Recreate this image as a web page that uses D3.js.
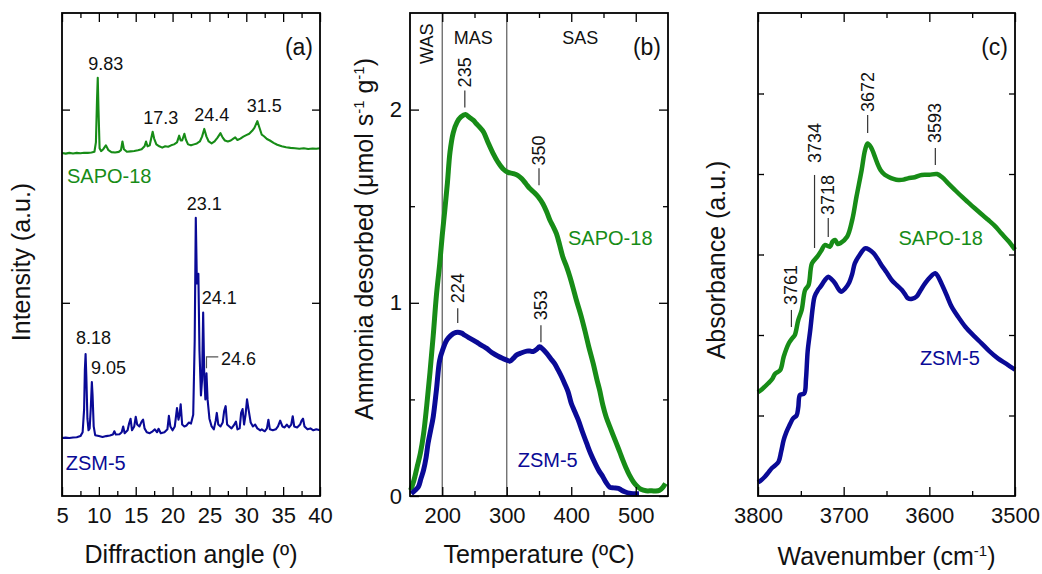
<!DOCTYPE html>
<html>
<head>
<meta charset="utf-8">
<script src="https://cdn.jsdelivr.net/npm/d3@7"></script>
<style>
body{margin:0;background:#fff;}
svg{display:block;font-family:"Liberation Sans",Arial,sans-serif;}
</style>
</head>
<body>
<svg id="chart" width="1042" height="574"></svg>
<script>
// ---- (a) XRD patterns: [angle, intensity a.u.]
const sapoXRD = [[5.0,1.775],[5.5,1.772],[6.0,1.776],[6.5,1.773],[7.0,1.776],[7.5,1.774],[8.0,1.777],[8.5,1.776],[9.0,1.778],[9.4,1.782],[9.6,1.83],[9.75,2.05],[9.85,2.165],[9.95,2.0],[10.1,1.80],[10.3,1.785],[10.6,1.795],[10.95,1.815],[11.3,1.79],[11.7,1.78],[12.2,1.778],[12.7,1.781],[13.0,1.79],[13.2,1.835],[13.4,1.795],[13.8,1.782],[14.3,1.784],[14.8,1.786],[15.3,1.79],[15.8,1.795],[16.2,1.81],[16.4,1.835],[16.6,1.81],[16.9,1.815],[17.1,1.85],[17.3,1.885],[17.5,1.85],[17.8,1.82],[18.2,1.81],[18.6,1.803],[19.0,1.81],[19.4,1.808],[19.8,1.815],[20.2,1.82],[20.6,1.83],[20.9,1.865],[21.1,1.84],[21.3,1.84],[21.6,1.875],[21.8,1.845],[22.1,1.82],[22.5,1.815],[22.9,1.82],[23.3,1.825],[23.7,1.835],[24.0,1.86],[24.3,1.9],[24.6,1.86],[24.9,1.835],[25.3,1.825],[25.7,1.835],[26.1,1.855],[26.5,1.878],[26.8,1.855],[27.1,1.84],[27.5,1.835],[27.9,1.84],[28.2,1.848],[28.5,1.856],[28.8,1.843],[29.2,1.85],[29.6,1.86],[30.0,1.868],[30.4,1.875],[30.8,1.89],[31.1,1.905],[31.5,1.94],[31.8,1.905],[32.1,1.87],[32.4,1.862],[32.8,1.848],[33.2,1.84],[33.7,1.828],[34.2,1.818],[34.8,1.81],[35.4,1.805],[36.0,1.802],[36.6,1.8],[37.2,1.797],[37.8,1.8],[38.4,1.796],[39.0,1.799],[39.5,1.797],[40.0,1.8]];
const zsmXRD = [[5.0,0.30],[5.5,0.302],[6.0,0.30],[6.5,0.303],[7.0,0.304],[7.5,0.31],[7.8,0.33],[8.0,0.45],[8.1,0.65],[8.2,0.735],[8.3,0.62],[8.45,0.40],[8.6,0.34],[8.75,0.35],[8.9,0.45],[9.05,0.59],[9.15,0.52],[9.3,0.36],[9.5,0.315],[10.0,0.31],[10.5,0.305],[11.0,0.31],[11.5,0.313],[11.9,0.318],[12.1,0.335],[12.3,0.318],[12.8,0.32],[13.1,0.33],[13.3,0.36],[13.5,0.325],[13.9,0.34],[14.1,0.375],[14.3,0.40],[14.5,0.34],[14.8,0.36],[15.0,0.41],[15.2,0.37],[15.5,0.36],[15.8,0.385],[16.0,0.395],[16.2,0.35],[16.5,0.33],[16.9,0.325],[17.3,0.335],[17.6,0.345],[17.9,0.33],[18.1,0.348],[18.4,0.325],[18.9,0.33],[19.3,0.345],[19.5,0.415],[19.7,0.36],[20.0,0.34],[20.3,0.36],[20.6,0.455],[20.8,0.395],[20.95,0.42],[21.1,0.475],[21.3,0.37],[21.6,0.36],[21.9,0.365],[22.2,0.38],[22.5,0.375],[22.8,0.42],[23.0,0.8],[23.15,1.44],[23.3,1.1],[23.5,1.15],[23.65,0.75],[23.85,0.52],[24.0,0.6],[24.15,0.95],[24.3,0.62],[24.45,0.5],[24.6,0.635],[24.75,0.5],[25.0,0.4],[25.3,0.36],[25.6,0.345],[25.85,0.39],[26.0,0.43],[26.2,0.37],[26.5,0.36],[26.8,0.38],[27.0,0.44],[27.2,0.465],[27.4,0.37],[27.7,0.36],[28.0,0.35],[28.3,0.365],[28.6,0.385],[28.8,0.345],[29.1,0.35],[29.3,0.43],[29.5,0.45],[29.7,0.37],[29.9,0.42],[30.1,0.5],[30.3,0.45],[30.6,0.38],[30.9,0.36],[31.2,0.37],[31.5,0.35],[31.9,0.34],[32.1,0.345],[32.5,0.335],[32.8,0.35],[33.0,0.395],[33.2,0.345],[33.6,0.34],[34.0,0.345],[34.3,0.36],[34.6,0.39],[34.9,0.36],[35.2,0.355],[35.5,0.37],[35.8,0.355],[36.1,0.37],[36.3,0.413],[36.5,0.36],[36.9,0.355],[37.3,0.37],[37.5,0.39],[37.7,0.40],[37.9,0.36],[38.3,0.345],[38.7,0.35],[39.1,0.34],[39.5,0.345],[40.0,0.34]];
// peak labels: [text, angle, intensity] (text start, baseline)
const xrdLabels = [["9.83",8.57,2.207],["17.3",16.03,1.928],["24.4",22.95,1.943],["31.5",30.06,1.990],["23.1",21.92,1.478],["24.1",23.95,0.996],["24.6",26.57,0.677],["8.18",6.90,0.786],["9.05",8.93,0.634]];
const xrdBracket = [[24.6,0.661],[24.6,0.72],[26.2,0.72]];
const xrdNames = [["SAPO-18",5.68,1.618],["ZSM-5",5.5,0.134]];

// ---- (b) NH3-TPD: [temperature ºC, umol s-1 g-1]
const sapoTPD = [[151,0.03],[156,0.08],[161,0.15],[166,0.22],[171,0.32],[176,0.47],[181,0.64],[186,0.83],[191,1.04],[196,1.2],[200,1.35],[204,1.48],[208,1.62],[212,1.78],[217,1.88],[223,1.935],[229,1.962],[236,1.975],[242,1.96],[248,1.945],[253,1.927],[259,1.905],[264,1.884],[271,1.83],[279,1.772],[286,1.73],[294,1.694],[302,1.675],[310,1.669],[317,1.66],[323,1.643],[330,1.615],[336,1.591],[343,1.57],[349,1.548],[356,1.513],[362,1.47],[367,1.427],[372,1.395],[377,1.358],[382,1.30],[387,1.237],[393,1.185],[398,1.134],[403,1.075],[408,1.013],[415,0.935],[421,0.858],[427,0.775],[434,0.686],[440,0.60],[444,0.548],[449,0.47],[454,0.41],[462,0.34],[470,0.272],[475,0.23],[480,0.186],[485,0.145],[490,0.109],[497,0.07],[503,0.048],[508,0.035],[516,0.027],[525,0.027],[531,0.026],[537,0.03],[542,0.045],[546,0.065]];
const zsmTPD = [[152,0.012],[158,0.03],[163,0.048],[167,0.09],[171,0.134],[175,0.2],[178,0.272],[182,0.34],[186,0.41],[191,0.55],[196,0.703],[201,0.76],[207,0.807],[213,0.83],[218,0.843],[224,0.848],[230,0.843],[235,0.832],[241,0.82],[248,0.807],[254,0.795],[259,0.784],[264,0.774],[269,0.764],[274,0.75],[279,0.738],[286,0.725],[294,0.712],[300,0.703],[305,0.698],[310,0.712],[315,0.729],[322,0.74],[331,0.75],[336,0.75],[341,0.748],[346,0.758],[351,0.772],[356,0.76],[362,0.738],[368,0.712],[374,0.686],[380,0.65],[385,0.617],[390,0.58],[395,0.54],[400,0.48],[405,0.44],[411,0.393],[417,0.335],[424,0.272],[430,0.22],[437,0.169],[443,0.13],[449,0.1],[454,0.07],[460,0.045],[466,0.042],[473,0.04],[478,0.03],[483,0.022],[490,0.014],[497,0.012],[505,0.012]];
const tpdBounds = [200, 300];
const tpdZones = [["WAS",177,2.341,true],["MAS",248,2.341,false],["SAS",414,2.341,false]];
// [temperature, line bottom, line top, text start, text]
const tpdPeaks = [[235,2.011,2.099,2.115,"235"],[350,1.608,1.696,1.711,"350"],[224,0.895,0.972,0.998,"224"],[353,0.796,0.884,0.910,"353"]];
const tpdNames = [["SAPO-18",395,1.298],["ZSM-5",317,0.15]];

// ---- (c) FTIR OH region: [wavenumber, absorbance a.u.]
const sapoIR = [[3800,1.29],[3795,1.33],[3788,1.40],[3783,1.46],[3780,1.52],[3774,1.565],[3770,1.73],[3764,1.897],[3760,1.96],[3757,2.0],[3753,2.186],[3749,2.31],[3745,2.559],[3741,2.62],[3737,2.89],[3731,2.97],[3726,3.05],[3722,3.118],[3716,3.097],[3713,3.16],[3710,3.18],[3707,3.13],[3704,3.14],[3696,3.22],[3690,3.43],[3685,3.72],[3679,4.05],[3675,4.3],[3672,4.38],[3668,4.33],[3665,4.257],[3661,4.14],[3657,4.05],[3652,3.99],[3648,3.967],[3642,3.94],[3636,3.925],[3630,3.93],[3625,3.946],[3617,3.96],[3609,3.988],[3600,3.99],[3591,4.0],[3585,3.96],[3578,3.884],[3570,3.8],[3562,3.718],[3555,3.65],[3547,3.574],[3539,3.5],[3531,3.428],[3523,3.35],[3516,3.263],[3508,3.17],[3500,3.06]];
const zsmIR = [[3800,0.17],[3796,0.2],[3792,0.24],[3788,0.29],[3784,0.344],[3780,0.38],[3776,0.426],[3773,0.55],[3770,0.696],[3767,0.79],[3764,0.861],[3759,0.965],[3755,1.0],[3753,1.1],[3751,1.255],[3746,1.276],[3744,1.45],[3742,1.8],[3739,2.062],[3736,2.35],[3734,2.476],[3730,2.56],[3727,2.6],[3722,2.68],[3718,2.724],[3714,2.69],[3710,2.642],[3706,2.57],[3703,2.538],[3698,2.58],[3694,2.642],[3690,2.76],[3687,2.89],[3681,3.0],[3675,3.077],[3670,3.06],[3665,3.015],[3660,2.94],[3656,2.87],[3650,2.78],[3644,2.683],[3638,2.62],[3632,2.559],[3628,2.5],[3625,2.456],[3620,2.45],[3615,2.476],[3610,2.56],[3605,2.642],[3599,2.72],[3593,2.766],[3590,2.73],[3586,2.642],[3580,2.5],[3574,2.352],[3566,2.22],[3558,2.103],[3548,1.99],[3539,1.897],[3530,1.8],[3520,1.71],[3510,1.64],[3500,1.57]];
const irPeaks = [[3672,4.509,4.733,4.770,"3672"],[3593,4.112,4.323,4.385,"3593"],[3734,3.081,3.988,4.137,"3734"],[3718,3.217,3.453,3.491,"3718"],[3761,2.099,2.311,2.373,"3761"]];
const irNames = [["SAPO-18",3636,3.118],["ZSM-5",3611,1.627]];

const svg = d3.select("#chart");
const fTop = 13, fBot = 496;
const green = "#178c17", navy = "#0a0a96";

function frame(g, x, y, o) {
  const [x0, x1] = x.range();
  const ax = (sel, axis) => sel.call(axis).call(s => s.select(".domain").remove());
  ax(g.append("g").attr("transform", `translate(0,${fBot})`),
     d3.axisBottom(x).tickValues(o.xMajor).tickSize(-9).tickPadding(11).tickFormat(d3.format("d")));
  ax(g.append("g").attr("transform", `translate(0,${fBot})`),
     d3.axisBottom(x).tickValues(o.xMinor).tickSize(-5).tickFormat(""));
  ax(g.append("g").attr("transform", `translate(0,${fTop})`),
     d3.axisTop(x).tickValues(o.xMajor).tickSize(-9).tickFormat(""));
  ax(g.append("g").attr("transform", `translate(0,${fTop})`),
     d3.axisTop(x).tickValues(o.xMinor).tickSize(-5).tickFormat(""));
  ax(g.append("g").attr("transform", `translate(${x0},0)`),
     d3.axisLeft(y).tickValues(o.yMajor).tickSize(-o.yLen).tickPadding(8).tickFormat(o.yLabels ? d3.format("d") : ""));
  ax(g.append("g").attr("transform", `translate(${x1},0)`),
     d3.axisRight(y).tickValues(o.yMajor).tickSize(-o.yLen).tickFormat(""));
  if (o.yMinor) {
    ax(g.append("g").attr("transform", `translate(${x0},0)`),
       d3.axisLeft(y).tickValues(o.yMinor).tickSize(-5).tickFormat(""));
    ax(g.append("g").attr("transform", `translate(${x1},0)`),
       d3.axisRight(y).tickValues(o.yMinor).tickSize(-5).tickFormat(""));
  }
  g.selectAll(".tick line").attr("stroke", "#000").attr("stroke-width", 1.3);
  g.selectAll(".tick text").attr("font-size", 22).attr("fill", "#111")
    .attr("font-family", "Liberation Sans, Arial, sans-serif");
  g.append("rect").attr("x", x0).attr("y", fTop).attr("width", x1 - x0).attr("height", fBot - fTop)
    .attr("fill", "none").attr("stroke", "#000").attr("stroke-width", 1.8);
  g.append("text").attr("x", x1 - 7).attr("y", 55).attr("text-anchor", "end")
    .attr("font-size", 23).attr("fill", "#111").text(o.tag);
}

function yTitle(g, xPos, yPos, build) {
  const t = g.append("text").attr("transform", `translate(${xPos},${yPos}) rotate(-90)`)
    .attr("text-anchor", "middle").attr("font-size", 25).attr("fill", "#111");
  build(t);
}

function xTitle(g, x, yPos, build) {
  const [x0, x1] = x.range();
  const t = g.append("text").attr("x", (x0 + x1) / 2).attr("y", yPos)
    .attr("text-anchor", "middle").attr("font-size", 25).attr("fill", "#111");
  build(t);
}

function names(g, x, y, list, cols) {
  g.selectAll(null).data(list).join("text")
    .attr("x", d => x(d[1])).attr("y", d => y(d[2]))
    .attr("font-size", 20).attr("fill", (d, i) => cols[i]).text(d => d[0]);
}

function peakMarks(g, x, y, list) {
  g.selectAll(null).data(list).join("line")
    .attr("x1", d => x(d[0])).attr("x2", d => x(d[0]))
    .attr("y1", d => y(d[1])).attr("y2", d => y(d[2]))
    .attr("stroke", "#333").attr("stroke-width", 1.2);
  g.selectAll(null).data(list).join("text")
    .attr("transform", d => `translate(${x(d[0])},${y(d[3])}) rotate(-90)`)
    .attr("dominant-baseline", "central").attr("font-size", 18).attr("fill", "#111")
    .text(d => d[4]);
}

function drawXRD() {
  const g = svg.append("g");
  const x = d3.scaleLinear().domain([5, 40]).range([62, 320]);
  const y = d3.scaleLinear().domain([0, 2.5]).range([fBot, fTop]);
  const line = d3.line().x(d => x(d[0])).y(d => y(d[1]));
  g.append("path").attr("d", line(sapoXRD)).attr("fill", "none").attr("stroke", green).attr("stroke-width", 2.1).attr("stroke-linejoin", "round");
  g.append("path").attr("d", line(zsmXRD)).attr("fill", "none").attr("stroke", navy).attr("stroke-width", 2.1).attr("stroke-linejoin", "round");
  g.append("path").attr("d", line(xrdBracket)).attr("fill", "none").attr("stroke", "#555").attr("stroke-width", 1.2);
  g.selectAll(null).data(xrdLabels).join("text")
    .attr("x", d => x(d[1])).attr("y", d => y(d[2]))
    .attr("font-size", 18).attr("fill", "#111").text(d => d[0]);
  names(g, x, y, xrdNames, [green, navy]);
  frame(g, x, y, { xMajor: d3.range(5, 41, 5), xMinor: d3.range(7.5, 40, 5), yMajor: [1, 2], yLen: 8, tag: "(a)" });
  yTitle(g, 30, 262, t => t.text("Intensity (a.u.)"));
  xTitle(g, x, 563, t => t.text("Diffraction angle (º)"));
}

function drawTPD() {
  const g = svg.append("g");
  const x = d3.scaleLinear().domain([150, 550]).range([410, 668]);
  const y = d3.scaleLinear().domain([0, 2.5]).range([fBot, fTop]);
  g.selectAll(null).data(tpdBounds).join("line")
    .attr("x1", d => x(d)).attr("x2", d => x(d)).attr("y1", fTop).attr("y2", fBot)
    .attr("stroke", "#666").attr("stroke-width", 1.3);
  const line = d3.line().x(d => x(d[0])).y(d => y(d[1])).curve(d3.curveCatmullRom.alpha(0.5));
  g.append("path").attr("d", line(sapoTPD)).attr("fill", "none").attr("stroke", green).attr("stroke-width", 5).attr("stroke-linejoin", "round");
  g.append("path").attr("d", line(zsmTPD)).attr("fill", "none").attr("stroke", navy).attr("stroke-width", 5).attr("stroke-linejoin", "round");
  g.selectAll(null).data(tpdZones).join("text")
    .attr("transform", d => `translate(${x(d[1])},${y(d[2])})` + (d[3] ? " rotate(-90)" : ""))
    .attr("text-anchor", "middle").attr("dominant-baseline", d => d[3] ? "central" : "auto")
    .attr("font-size", 18).attr("fill", "#111").text(d => d[0]);
  peakMarks(g, x, y, tpdPeaks);
  names(g, x, y, tpdNames, [green, navy]);
  frame(g, x, y, { xMajor: [200, 300, 400, 500], xMinor: [250, 350, 450], yMajor: [0, 1, 2], yMinor: [0.5, 1.5], yLen: 9, yLabels: true, tag: "(b)" });
  yTitle(g, 373, 239, t => {
    t.append("tspan").text("Ammonia desorbed (μmol s");
    t.append("tspan").attr("font-size", 15).attr("dy", -9).text("-1");
    t.append("tspan").attr("dy", 9).text(" g");
    t.append("tspan").attr("font-size", 15).attr("dy", -9).text("-1");
    t.append("tspan").attr("dy", 9).text(")");
  });
  xTitle(g, x, 563, t => t.text("Temperature (ºC)"));
}

function drawIR() {
  const g = svg.append("g");
  const x = d3.scaleLinear().domain([3800, 3500]).range([758, 1015]);
  const y = d3.scaleLinear().domain([0, 6]).range([fBot, fTop]);
  const line = d3.line().x(d => x(d[0])).y(d => y(d[1])).curve(d3.curveCatmullRom.alpha(0.5));
  g.append("path").attr("d", line(sapoIR)).attr("fill", "none").attr("stroke", green).attr("stroke-width", 4.5).attr("stroke-linejoin", "round");
  g.append("path").attr("d", line(zsmIR)).attr("fill", "none").attr("stroke", navy).attr("stroke-width", 4.5).attr("stroke-linejoin", "round");
  peakMarks(g, x, y, irPeaks);
  names(g, x, y, irNames, [green, navy]);
  frame(g, x, y, { xMajor: [3800, 3700, 3600, 3500], xMinor: [3750, 3650, 3550], yMajor: [1, 2, 3, 4, 5], yLen: 6, tag: "(c)" });
  yTitle(g, 725, 260, t => t.text("Absorbance (a.u.)"));
  xTitle(g, x, 565, t => {
    t.append("tspan").text("Wavenumber (cm");
    t.append("tspan").attr("font-size", 15).attr("dy", -9).text("-1");
    t.append("tspan").attr("dy", 9).text(")");
  });
}

drawXRD();
drawTPD();
drawIR();
</script>
</body>
</html>
